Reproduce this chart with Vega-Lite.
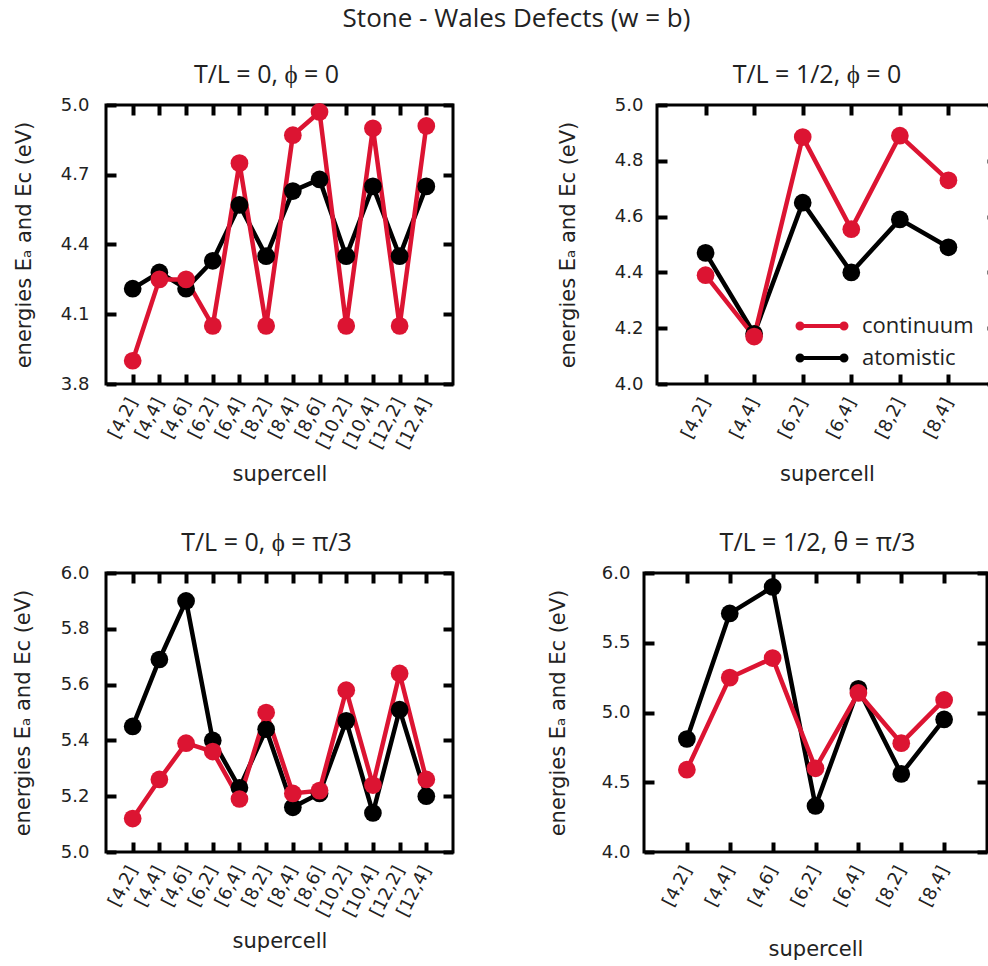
{
  "$schema": "https://vega.github.io/schema/vega-lite/v6.json",
  "background": "white",
  "padding": {"left": 10, "top": 5, "right": 0, "bottom": 0},
  "title": {"text": "Stone - Wales Defects (w = b)", "fontSize": 26, "font": "Open Sans", "fontWeight": "normal", "anchor": "middle", "color": "#222", "offset": 30, "dx": 11},
  "datasets": {
    "p1": [
      {"supercell": "[4,2]", "series": "atomistic", "energy": 4.21},
      {"supercell": "[4,4]", "series": "atomistic", "energy": 4.28},
      {"supercell": "[4,6]", "series": "atomistic", "energy": 4.21},
      {"supercell": "[6,2]", "series": "atomistic", "energy": 4.33},
      {"supercell": "[6,4]", "series": "atomistic", "energy": 4.57},
      {"supercell": "[8,2]", "series": "atomistic", "energy": 4.35},
      {"supercell": "[8,4]", "series": "atomistic", "energy": 4.63},
      {"supercell": "[8,6]", "series": "atomistic", "energy": 4.68},
      {"supercell": "[10,2]", "series": "atomistic", "energy": 4.35},
      {"supercell": "[10,4]", "series": "atomistic", "energy": 4.65},
      {"supercell": "[12,2]", "series": "atomistic", "energy": 4.35},
      {"supercell": "[12,4]", "series": "atomistic", "energy": 4.65},
      {"supercell": "[4,2]", "series": "continuum", "energy": 3.90},
      {"supercell": "[4,4]", "series": "continuum", "energy": 4.25},
      {"supercell": "[4,6]", "series": "continuum", "energy": 4.25},
      {"supercell": "[6,2]", "series": "continuum", "energy": 4.05},
      {"supercell": "[6,4]", "series": "continuum", "energy": 4.75},
      {"supercell": "[8,2]", "series": "continuum", "energy": 4.05},
      {"supercell": "[8,4]", "series": "continuum", "energy": 4.87},
      {"supercell": "[8,6]", "series": "continuum", "energy": 4.97},
      {"supercell": "[10,2]", "series": "continuum", "energy": 4.05},
      {"supercell": "[10,4]", "series": "continuum", "energy": 4.90},
      {"supercell": "[12,2]", "series": "continuum", "energy": 4.05},
      {"supercell": "[12,4]", "series": "continuum", "energy": 4.91}
    ],
    "p2": [
      {"supercell": "[4,2]", "series": "atomistic", "energy": 4.47},
      {"supercell": "[4,4]", "series": "atomistic", "energy": 4.18},
      {"supercell": "[6,2]", "series": "atomistic", "energy": 4.65},
      {"supercell": "[6,4]", "series": "atomistic", "energy": 4.40},
      {"supercell": "[8,2]", "series": "atomistic", "energy": 4.59},
      {"supercell": "[8,4]", "series": "atomistic", "energy": 4.49},
      {"supercell": "[4,2]", "series": "continuum", "energy": 4.39},
      {"supercell": "[4,4]", "series": "continuum", "energy": 4.17},
      {"supercell": "[6,2]", "series": "continuum", "energy": 4.885},
      {"supercell": "[6,4]", "series": "continuum", "energy": 4.555},
      {"supercell": "[8,2]", "series": "continuum", "energy": 4.89},
      {"supercell": "[8,4]", "series": "continuum", "energy": 4.73}
    ],
    "p3": [
      {"supercell": "[4,2]", "series": "atomistic", "energy": 5.45},
      {"supercell": "[4,4]", "series": "atomistic", "energy": 5.69},
      {"supercell": "[4,6]", "series": "atomistic", "energy": 5.90},
      {"supercell": "[6,2]", "series": "atomistic", "energy": 5.40},
      {"supercell": "[6,4]", "series": "atomistic", "energy": 5.23},
      {"supercell": "[8,2]", "series": "atomistic", "energy": 5.44},
      {"supercell": "[8,4]", "series": "atomistic", "energy": 5.16},
      {"supercell": "[8,6]", "series": "atomistic", "energy": 5.21},
      {"supercell": "[10,2]", "series": "atomistic", "energy": 5.47},
      {"supercell": "[10,4]", "series": "atomistic", "energy": 5.14},
      {"supercell": "[12,2]", "series": "atomistic", "energy": 5.51},
      {"supercell": "[12,4]", "series": "atomistic", "energy": 5.20},
      {"supercell": "[4,2]", "series": "continuum", "energy": 5.12},
      {"supercell": "[4,4]", "series": "continuum", "energy": 5.26},
      {"supercell": "[4,6]", "series": "continuum", "energy": 5.39},
      {"supercell": "[6,2]", "series": "continuum", "energy": 5.36},
      {"supercell": "[6,4]", "series": "continuum", "energy": 5.19},
      {"supercell": "[8,2]", "series": "continuum", "energy": 5.50},
      {"supercell": "[8,4]", "series": "continuum", "energy": 5.21},
      {"supercell": "[8,6]", "series": "continuum", "energy": 5.22},
      {"supercell": "[10,2]", "series": "continuum", "energy": 5.58},
      {"supercell": "[10,4]", "series": "continuum", "energy": 5.24},
      {"supercell": "[12,2]", "series": "continuum", "energy": 5.64},
      {"supercell": "[12,4]", "series": "continuum", "energy": 5.26}
    ],
    "p4": [
      {"supercell": "[4,2]", "series": "atomistic", "energy": 4.81},
      {"supercell": "[4,4]", "series": "atomistic", "energy": 5.71},
      {"supercell": "[4,6]", "series": "atomistic", "energy": 5.90},
      {"supercell": "[6,2]", "series": "atomistic", "energy": 4.33},
      {"supercell": "[6,4]", "series": "atomistic", "energy": 5.17},
      {"supercell": "[8,2]", "series": "atomistic", "energy": 4.56},
      {"supercell": "[8,4]", "series": "atomistic", "energy": 4.95},
      {"supercell": "[4,2]", "series": "continuum", "energy": 4.59},
      {"supercell": "[4,4]", "series": "continuum", "energy": 5.25},
      {"supercell": "[4,6]", "series": "continuum", "energy": 5.39},
      {"supercell": "[6,2]", "series": "continuum", "energy": 4.60},
      {"supercell": "[6,4]", "series": "continuum", "energy": 5.14},
      {"supercell": "[8,2]", "series": "continuum", "energy": 4.78},
      {"supercell": "[8,4]", "series": "continuum", "energy": 5.09}
    ]
  },
  "vconcat": [
    {
      "hconcat": [
        {
          "width": 347, "height": 279,
          "title": {"text": "T/L = 0, ϕ = 0", "frame": "group", "dx": -13, "offset": 8},
          "data": {"name": "p1"},
          "layer": [
            {"mark": {"type": "line", "strokeWidth": 4.5},
             "encoding": {
               "x": {"field": "supercell", "type": "ordinal", "sort": null, "scale": {"type": "point", "padding": 1}, "axis": {"orient": "bottom", "title": "supercell", "labelAngle": -63, "labelPadding": 15, "titleY": 100, "titleBaseline": "middle", "offset": -10, "tickSize": 10, "tickColor": "#000000", "tickWidth": 4}},
               "y": {"field": "energy", "type": "quantitative", "scale": {"domain": [3.8, 5.0], "zero": false, "nice": false}, "axis": {"orient": "left", "values": [3.8, 4.1, 4.4, 4.7, 5.0], "format": ".1f", "labelPadding": 17, "title": "energies Eₐ  and Eᴄ  (eV)", "titleX": -92, "titleBaseline": "middle", "offset": -10, "tickSize": 10, "tickColor": "#000000", "tickWidth": 4}},
               "color": {"field": "series", "type": "nominal", "scale": {"domain": ["continuum", "atomistic"], "range": ["#dc1432", "#000000"]}, "legend": null}}},
            {"mark": {"type": "point", "filled": true, "size": 314, "opacity": 1},
             "encoding": {
               "x": {"field": "supercell", "type": "ordinal", "sort": null, "scale": {"type": "point", "padding": 1}, "axis": null},
               "y": {"field": "energy", "type": "quantitative", "scale": {"domain": [3.8, 5.0], "zero": false, "nice": false}, "axis": null},
               "color": {"field": "series", "type": "nominal", "scale": {"domain": ["continuum", "atomistic"], "range": ["#dc1432", "#000000"]}, "legend": null}}},
            {"mark": {"type": "point", "opacity": 0},
             "encoding": {
               "x": {"field": "supercell", "type": "ordinal", "sort": null, "scale": {"type": "point", "padding": 1}, "axis": {"orient": "top", "labels": false, "title": null, "offset": -10, "tickSize": 10, "tickColor": "#000000", "tickWidth": 4}},
               "y": {"field": "energy", "type": "quantitative", "scale": {"domain": [3.8, 5.0], "zero": false, "nice": false}, "axis": {"orient": "right", "labels": false, "title": null, "values": [3.8, 4.1, 4.4, 4.7, 5.0], "offset": -10, "tickSize": 10, "tickColor": "#000000", "tickWidth": 4}}}}
          ],
          "resolve": {"axis": {"x": "independent", "y": "independent"}}
        },
        {
          "width": 340, "height": 279,
          "title": {"text": "T/L = 1/2, ϕ = 0", "frame": "group", "dx": -10, "offset": 8},
          "data": {"name": "p2"},
          "layer": [
            {"mark": {"type": "line", "strokeWidth": 4.5},
             "encoding": {
               "x": {"field": "supercell", "type": "ordinal", "sort": null, "scale": {"type": "point", "padding": 1}, "axis": {"orient": "bottom", "title": "supercell", "labelAngle": -63, "labelPadding": 15, "titleY": 100, "titleBaseline": "middle", "offset": -10, "tickSize": 10, "tickColor": "#000000", "tickWidth": 4}},
               "y": {"field": "energy", "type": "quantitative", "scale": {"domain": [4.0, 5.0], "zero": false, "nice": false}, "axis": {"orient": "left", "values": [4.0, 4.2, 4.4, 4.6, 4.8, 5.0], "format": ".1f", "labelPadding": 14, "title": "energies Eₐ  and Eᴄ  (eV)", "titleX": -99, "titleBaseline": "middle", "offset": -10, "tickSize": 10, "tickColor": "#000000", "tickWidth": 4}},
               "color": {"field": "series", "type": "nominal", "scale": {"domain": ["continuum", "atomistic"], "range": ["#dc1432", "#000000"]},
                 "legend": {"orient": "none", "legendX": 153, "legendY": 209, "title": null, "symbolType": "M-2.2,0L2.2,0M-2.45,0A0.25,0.25,0,1,0,-1.95,0A0.25,0.25,0,1,0,-2.45,0M1.95,0A0.25,0.25,0,1,0,2.45,0A0.25,0.25,0,1,0,1.95,0", "symbolSize": 400, "symbolStrokeWidth": 4, "labelFont": "Open Sans", "labelFontSize": 22, "labelColor": "#222", "labelOffset": 28, "rowPadding": 9,
                   "encode": {"symbols": {"update": {"fill": {"signal": "datum.value === 'continuum' ? '#dc1432' : '#000000'"}, "stroke": {"signal": "datum.value === 'continuum' ? '#dc1432' : '#000000'"}, "opacity": {"value": 1}}}}}}}},
            {"mark": {"type": "point", "filled": true, "size": 314, "opacity": 1},
             "encoding": {
               "x": {"field": "supercell", "type": "ordinal", "sort": null, "scale": {"type": "point", "padding": 1}, "axis": null},
               "y": {"field": "energy", "type": "quantitative", "scale": {"domain": [4.0, 5.0], "zero": false, "nice": false}, "axis": null},
               "color": {"field": "series", "type": "nominal", "scale": {"domain": ["continuum", "atomistic"], "range": ["#dc1432", "#000000"]}}}},
            {"mark": {"type": "point", "opacity": 0},
             "encoding": {
               "x": {"field": "supercell", "type": "ordinal", "sort": null, "scale": {"type": "point", "padding": 1}, "axis": {"orient": "top", "labels": false, "title": null, "offset": -10, "tickSize": 10, "tickColor": "#000000", "tickWidth": 4}},
               "y": {"field": "energy", "type": "quantitative", "scale": {"domain": [4.0, 5.0], "zero": false, "nice": false}, "axis": {"orient": "right", "labels": false, "title": null, "values": [4.0, 4.2, 4.4, 4.6, 4.8, 5.0], "offset": -10, "tickSize": 10, "tickColor": "#000000", "tickWidth": 4}}}}
          ],
          "resolve": {"axis": {"x": "independent", "y": "independent"}}
        }
      ],
      "spacing": 98,
      "resolve": {"scale": {"color": "independent"}, "legend": {"color": "independent"}}
    },
    {
      "hconcat": [
        {
          "width": 347, "height": 279,
          "title": {"text": "T/L = 0, ϕ = π/3", "frame": "group", "dx": -13, "offset": 8},
          "data": {"name": "p3"},
          "layer": [
            {"mark": {"type": "line", "strokeWidth": 4.5},
             "encoding": {
               "x": {"field": "supercell", "type": "ordinal", "sort": null, "scale": {"type": "point", "padding": 1}, "axis": {"orient": "bottom", "title": "supercell", "labelAngle": -63, "labelPadding": 15, "titleY": 99, "titleBaseline": "middle", "offset": -10, "tickSize": 10, "tickColor": "#000000", "tickWidth": 4}},
               "y": {"field": "energy", "type": "quantitative", "scale": {"domain": [5.0, 6.0], "zero": false, "nice": false}, "axis": {"orient": "left", "values": [5.0, 5.2, 5.4, 5.6, 5.8, 6.0], "format": ".1f", "labelPadding": 17, "title": "energies Eₐ  and Eᴄ  (eV)", "titleX": -93, "titleBaseline": "middle", "offset": -10, "tickSize": 10, "tickColor": "#000000", "tickWidth": 4}},
               "color": {"field": "series", "type": "nominal", "scale": {"domain": ["continuum", "atomistic"], "range": ["#dc1432", "#000000"]}, "legend": null}}},
            {"mark": {"type": "point", "filled": true, "size": 314, "opacity": 1},
             "encoding": {
               "x": {"field": "supercell", "type": "ordinal", "sort": null, "scale": {"type": "point", "padding": 1}, "axis": null},
               "y": {"field": "energy", "type": "quantitative", "scale": {"domain": [5.0, 6.0], "zero": false, "nice": false}, "axis": null},
               "color": {"field": "series", "type": "nominal", "scale": {"domain": ["continuum", "atomistic"], "range": ["#dc1432", "#000000"]}, "legend": null}}},
            {"mark": {"type": "point", "opacity": 0},
             "encoding": {
               "x": {"field": "supercell", "type": "ordinal", "sort": null, "scale": {"type": "point", "padding": 1}, "axis": {"orient": "top", "labels": false, "title": null, "offset": -10, "tickSize": 10, "tickColor": "#000000", "tickWidth": 4}},
               "y": {"field": "energy", "type": "quantitative", "scale": {"domain": [5.0, 6.0], "zero": false, "nice": false}, "axis": {"orient": "right", "labels": false, "title": null, "values": [5.0, 5.2, 5.4, 5.6, 5.8, 6.0], "offset": -10, "tickSize": 10, "tickColor": "#000000", "tickWidth": 4}}}}
          ],
          "resolve": {"axis": {"x": "independent", "y": "independent"}}
        },
        {
          "width": 343, "height": 279,
          "title": {"text": "T/L = 1/2, θ = π/3", "frame": "group", "dx": 2, "offset": 8},
          "data": {"name": "p4"},
          "layer": [
            {"mark": {"type": "line", "strokeWidth": 4.5},
             "encoding": {
               "x": {"field": "supercell", "type": "ordinal", "sort": null, "scale": {"type": "point", "padding": 1}, "axis": {"orient": "bottom", "title": "supercell", "labelAngle": -63, "labelPadding": 15, "titleY": 107, "titleBaseline": "middle", "offset": -10, "tickSize": 10, "tickColor": "#000000", "tickWidth": 4}},
               "y": {"field": "energy", "type": "quantitative", "scale": {"domain": [4.0, 6.0], "zero": false, "nice": false}, "axis": {"orient": "left", "values": [4.0, 4.5, 5.0, 5.5, 6.0], "format": ".1f", "labelPadding": 14, "title": "energies Eₐ  and Eᴄ  (eV)", "titleX": -96, "titleBaseline": "middle", "offset": -10, "tickSize": 10, "tickColor": "#000000", "tickWidth": 4}},
               "color": {"field": "series", "type": "nominal", "scale": {"domain": ["continuum", "atomistic"], "range": ["#dc1432", "#000000"]}, "legend": null}}},
            {"mark": {"type": "point", "filled": true, "size": 314, "opacity": 1},
             "encoding": {
               "x": {"field": "supercell", "type": "ordinal", "sort": null, "scale": {"type": "point", "padding": 1}, "axis": null},
               "y": {"field": "energy", "type": "quantitative", "scale": {"domain": [4.0, 6.0], "zero": false, "nice": false}, "axis": null},
               "color": {"field": "series", "type": "nominal", "scale": {"domain": ["continuum", "atomistic"], "range": ["#dc1432", "#000000"]}, "legend": null}}},
            {"mark": {"type": "point", "opacity": 0},
             "encoding": {
               "x": {"field": "supercell", "type": "ordinal", "sort": null, "scale": {"type": "point", "padding": 1}, "axis": {"orient": "top", "labels": false, "title": null, "offset": -10, "tickSize": 10, "tickColor": "#000000", "tickWidth": 4}},
               "y": {"field": "energy", "type": "quantitative", "scale": {"domain": [4.0, 6.0], "zero": false, "nice": false}, "axis": {"orient": "right", "labels": false, "title": null, "values": [4.0, 4.5, 5.0, 5.5, 6.0], "offset": -10, "tickSize": 10, "tickColor": "#000000", "tickWidth": 4}}}}
          ],
          "resolve": {"axis": {"x": "independent", "y": "independent"}}
        }
      ],
      "spacing": 88,
      "resolve": {"scale": {"color": "independent"}, "legend": {"color": "independent"}}
    }
  ],
  "spacing": 43,
  "resolve": {"scale": {"color": "independent"}, "legend": {"color": "independent"}},
  "config": {
    "view": {"stroke": "black", "strokeWidth": 3},
    "axis": {"domain": false, "grid": false, "ticks": true, "tickColor": "#000000", "tickWidth": 4, "tickSize": 10, "offset": -10, "zindex": 1, "labelFont": "DejaVu Sans", "labelFontSize": 18, "labelColor": "#222", "titleFont": "DejaVu Sans", "titleFontSize": 21, "titleFontWeight": "normal", "titleColor": "#222"},
    "title": {"font": "Open Sans", "fontSize": 25, "fontWeight": "normal", "color": "#222"}
  }
}
